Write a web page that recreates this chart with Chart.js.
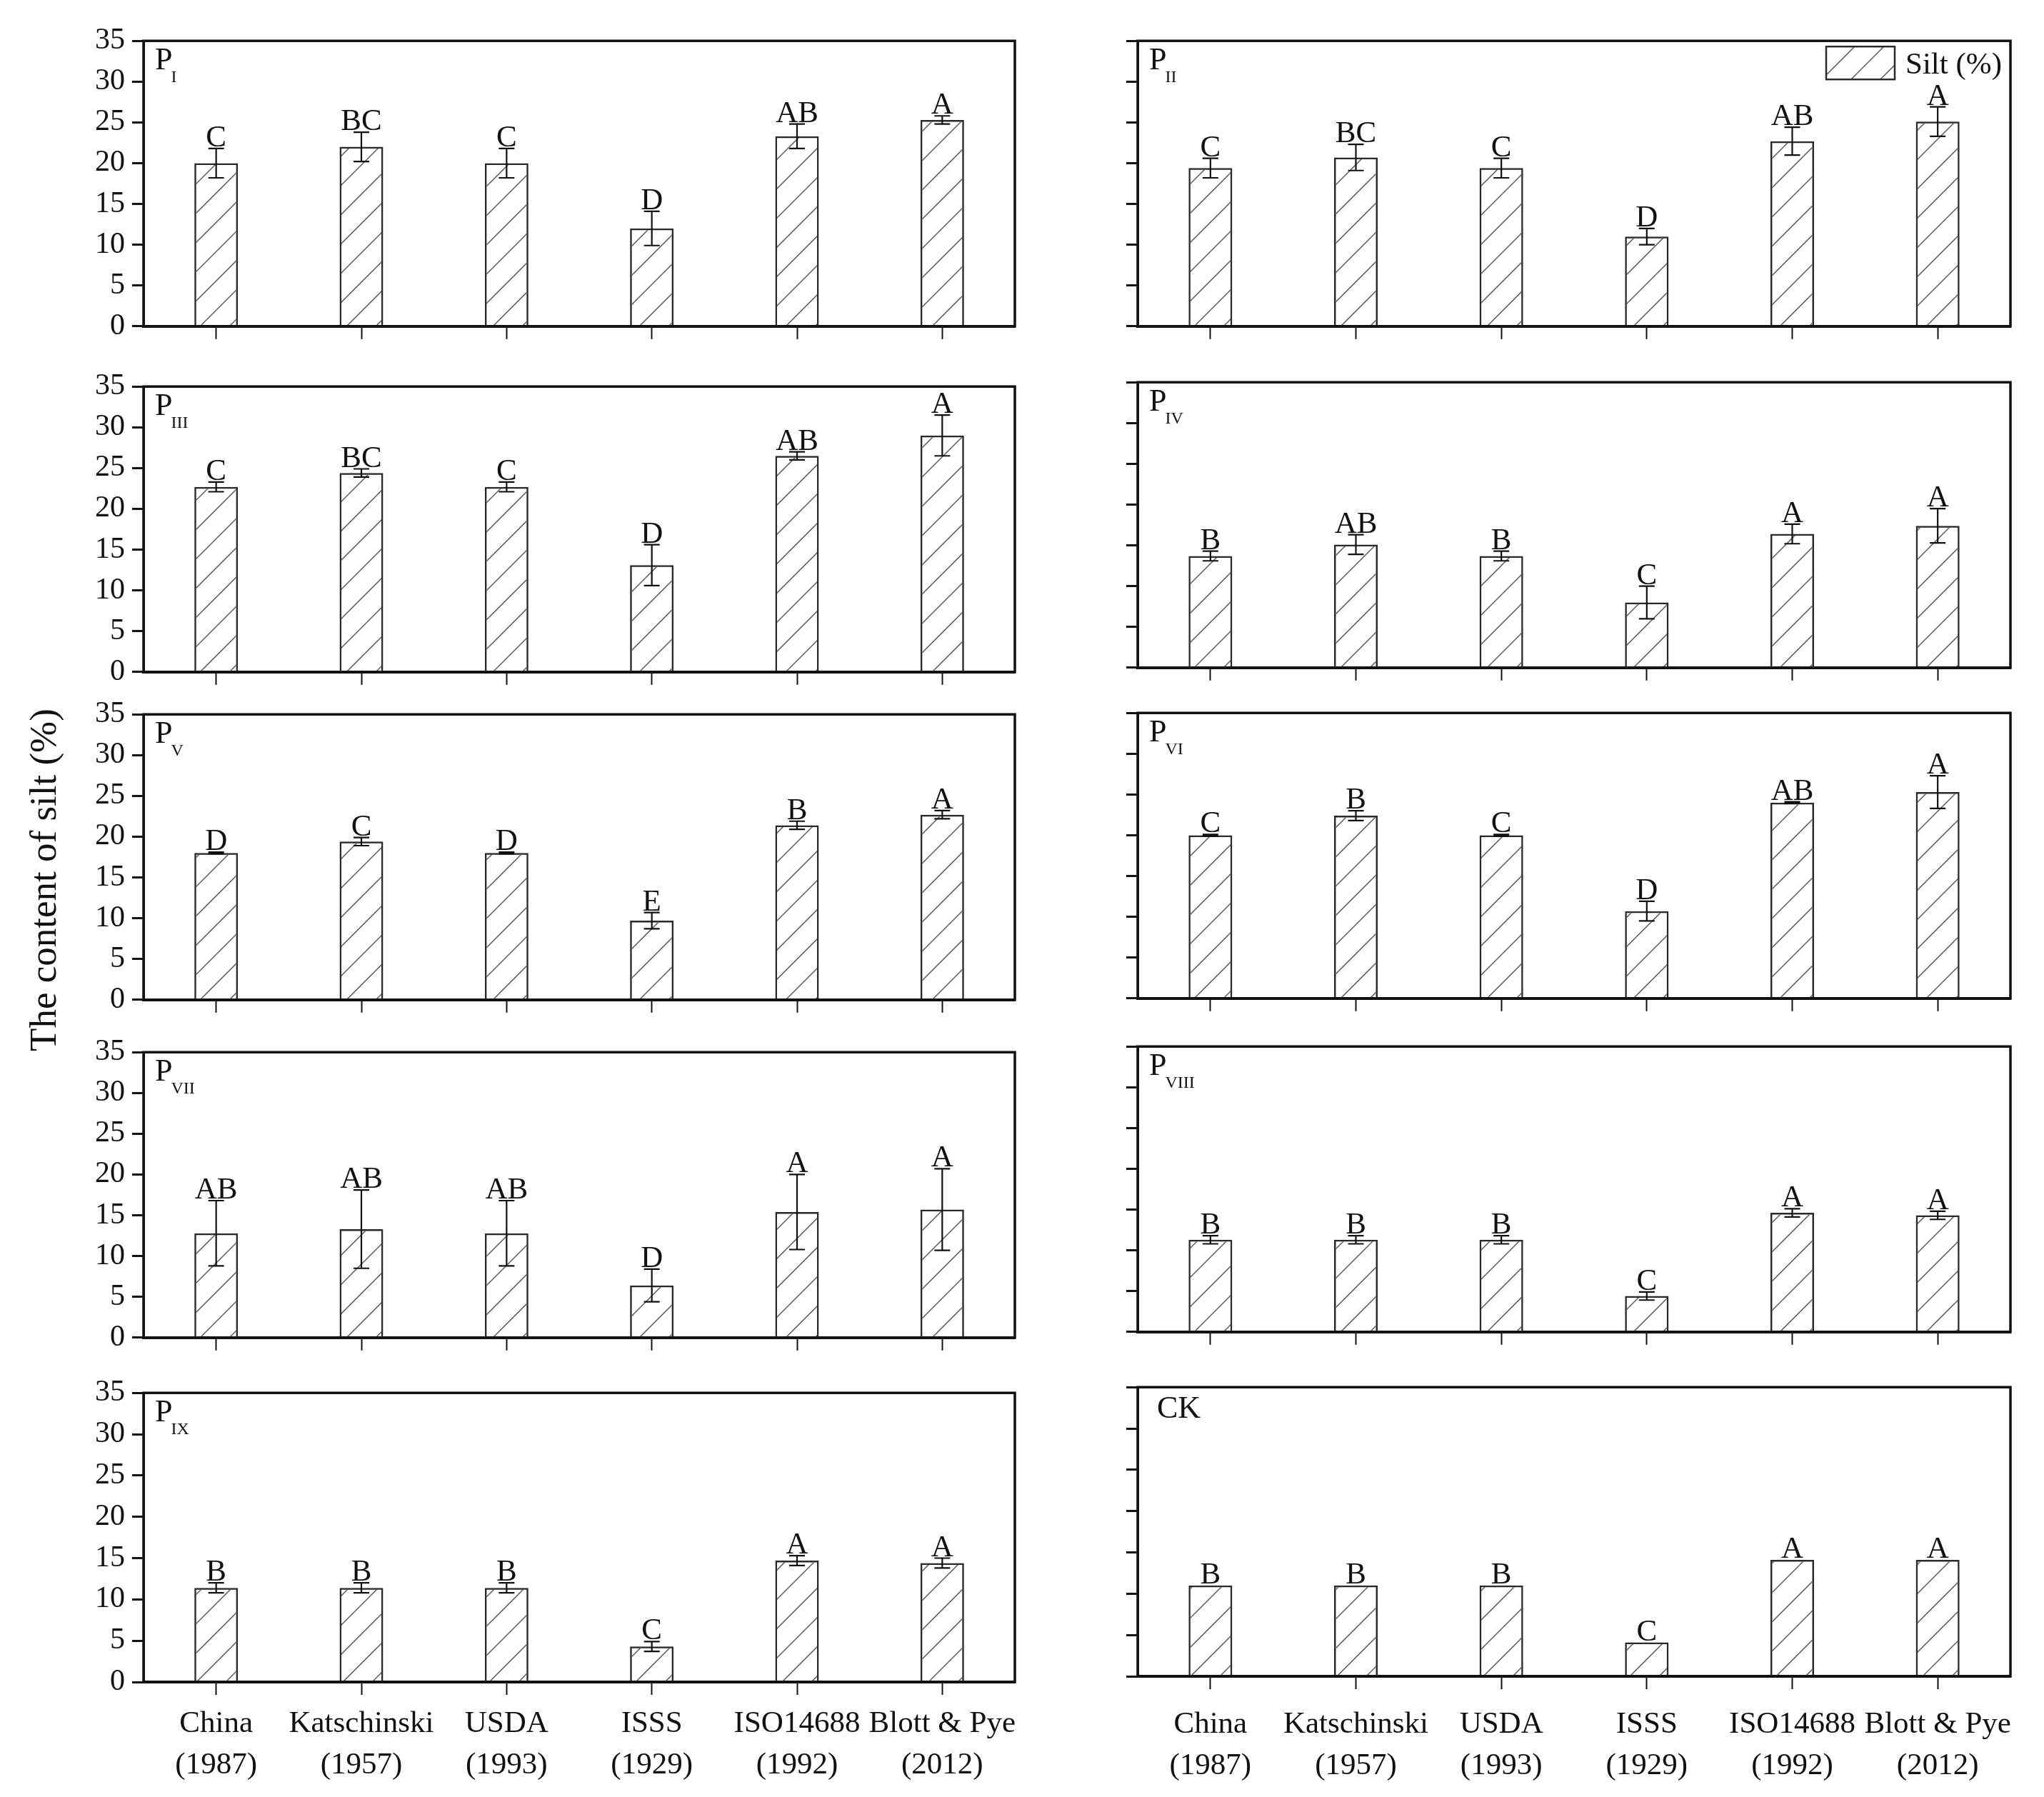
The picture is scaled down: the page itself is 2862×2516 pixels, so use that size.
<!DOCTYPE html>
<html>
<head>
<meta charset="utf-8">
<script src="https://cdn.jsdelivr.net/npm/chart.js@4.4.1/dist/chart.umd.min.js"></script>
<style>
  body{margin:0;background:#fff;width:2862px;height:2516px;position:relative;overflow:hidden;font-family:'Liberation Serif','Times New Roman',serif}
  canvas{position:absolute}
  #ytitle{position:absolute;left:60px;top:1232px;transform:translate(-50%,-50%) rotate(-90deg);font-size:53px;white-space:nowrap;color:#111}
</style>
</head>
<body>
<div id="ytitle">The content of silt (%)</div>
<script>
// ---------- data ----------
const categories = [['China','(1987)'],['Katschinski','(1957)'],['USDA','(1993)'],['ISSS','(1929)'],['ISO14688','(1992)'],['Blott & Pye','(2012)']];
const yTickValues = [0,5,10,15,20,25,30,35];
const panelMain = ['P','P','P','P','P','P','P','P','P','CK'];
const panelSub  = ['I','II','III','IV','V','VI','VII','VIII','IX',''];

const silt_PI    = [20.0, 22.0, 20.0, 12.0, 23.3, 25.3];
const err_PI     = [1.8, 1.8, 1.8, 2.1, 1.5, 0.5];
const let_PI     = ['C','BC','C','D','AB','A'];

const silt_PII   = [19.4, 20.7, 19.4, 11.0, 22.7, 25.1];
const err_PII    = [1.2, 1.6, 1.2, 1.0, 1.7, 1.8];
const let_PII    = ['C','BC','C','D','AB','A'];

const silt_PIII  = [22.7, 24.4, 22.7, 13.1, 26.5, 29.0];
const err_PIII   = [0.6, 0.5, 0.6, 2.5, 0.5, 2.5];
const let_PIII   = ['C','BC','C','D','AB','A'];

const silt_PIV   = [13.7, 15.1, 13.7, 8.0, 16.4, 17.4];
const err_PIV    = [0.6, 1.2, 0.6, 2.0, 1.2, 2.1];
const let_PIV    = ['B','AB','B','C','A','A'];

const silt_PV    = [18.0, 19.4, 18.0, 9.7, 21.4, 22.7];
const err_PV     = [0.1, 0.5, 0.1, 1.0, 0.5, 0.5];
const let_PV     = ['D','C','D','E','B','A'];

const silt_PVI   = [20.0, 22.4, 20.0, 10.7, 24.0, 25.3];
const err_PVI    = [0.1, 0.6, 0.1, 1.2, 0.1, 2.0];
const let_PVI    = ['C','B','C','D','AB','A'];

const silt_PVII  = [12.8, 13.3, 12.8, 6.4, 15.4, 15.7];
const err_PVII   = [4.0, 4.8, 4.0, 2.0, 4.6, 5.0];
const let_PVII   = ['AB','AB','AB','D','A','A'];

const silt_PVIII = [11.3, 11.3, 11.3, 4.4, 14.6, 14.3];
const err_PVIII  = [0.5, 0.5, 0.5, 0.5, 0.5, 0.5];
const let_PVIII  = ['B','B','B','C','A','A'];

const silt_PIX   = [11.4, 11.4, 11.4, 4.3, 14.7, 14.4];
const err_PIX    = [0.6, 0.6, 0.6, 0.6, 0.6, 0.6];
const let_PIX    = ['B','B','B','C','A','A'];

const silt_CK    = [11.0, 11.0, 11.0, 4.1, 14.1, 14.1];
const err_CK     = [0, 0, 0, 0, 0, 0];
const let_CK     = ['B','B','B','C','A','A'];

const allSilt    = [silt_PI, silt_PII, silt_PIII, silt_PIV, silt_PV, silt_PVI, silt_PVII, silt_PVIII, silt_PIX, silt_CK];
const allErr     = [err_PI, err_PII, err_PIII, err_PIV, err_PV, err_PVI, err_PVII, err_PVIII, err_PIX, err_CK];
const allLetters = [let_PI, let_PII, let_PIII, let_PIV, let_PV, let_PVI, let_PVII, let_PVIII, let_PIX, let_CK];

// ---------- layout ----------
const FONT = "'Liberation Serif', 'Times New Roman', serif";
const INK = '#111';
const PAD_TOP = 30, PAD_R = 44, Y_W = 101, PLOT_H = 410;
const colLeft = [201, 1593];            // plot area left edge
const colWidth = [1220, 1222];          // plot area width
const rowTop = [[52,536,995,1468,1945],[52,530,993,1460,1937]];

// hatch tile "/" at 45 deg
function hatchTile(){
  const s = 41, c = document.createElement('canvas');
  c.width = s; c.height = s;
  const g = c.getContext('2d');
  g.strokeStyle = '#5a5a5a'; g.lineWidth = 1.5;
  g.beginPath();
  g.moveTo(-2, s+2); g.lineTo(s+2, -2);
  g.moveTo(-2, 2); g.lineTo(2, -2);
  g.moveTo(s-2, s+2); g.lineTo(s+2, s-2);
  g.stroke();
  return c;
}
const tile = hatchTile();

// ---------- error bars, letters, frame, labels ----------
const decor = {
  id: 'decor',
  afterDatasetsDraw(chart, args, o){
    const ctx = chart.ctx, a = chart.chartArea, y = chart.scales.y;
    const meta = chart.getDatasetMeta(0);
    ctx.save();
    ctx.strokeStyle = INK; ctx.fillStyle = INK; ctx.lineWidth = 2.2;
    ctx.font = '43px ' + FONT; ctx.textAlign = 'center'; ctx.textBaseline = 'alphabetic';
    meta.data.forEach((bar, i) => {
      const v = o.values[i], e = o.errors[i];
      const yt = y.getPixelForValue(v + e), yb = y.getPixelForValue(v - e);
      if(e > 0){
        ctx.beginPath();
        ctx.moveTo(bar.x, yt); ctx.lineTo(bar.x, yb);
        ctx.moveTo(bar.x-11, yt); ctx.lineTo(bar.x+11, yt);
        ctx.moveTo(bar.x-11, yb); ctx.lineTo(bar.x+11, yb);
        ctx.stroke();
      }
      ctx.fillText(o.letters[i], bar.x, yt - 3);
    });
    // frame
    ctx.lineWidth = 3.5;
    ctx.strokeRect(a.left, a.top, a.right - a.left, a.bottom - a.top);
    // panel label
    ctx.textAlign = 'left';
    if(o.sub){
      ctx.font = '44px ' + FONT;
      ctx.fillText(o.main, a.left + 16, a.top + 40);
      const w = ctx.measureText(o.main).width;
      ctx.font = '24px ' + FONT;
      ctx.fillText(o.sub, a.left + 16 + w - 2, a.top + 58);
    } else {
      ctx.font = '44px ' + FONT;
      ctx.fillText(o.main, a.left + 27, a.top + 43);
    }
    // legend
    if(o.legend){
      const lx = a.right - 258, ly = a.top + 8;
      ctx.fillStyle = ctx.createPattern(tile, 'repeat');
      ctx.fillRect(lx, ly, 96, 46);
      ctx.lineWidth = 2.5; ctx.strokeStyle = '#2a2a2a';
      ctx.strokeRect(lx, ly, 96, 46);
      ctx.fillStyle = INK; ctx.font = '43px ' + FONT;
      ctx.fillText('Silt (%)', lx + 111, ly + 38);
    }
    ctx.restore();
  }
};

function makePanel(idx){
  const col = idx % 2, row = Math.floor(idx / 2);
  const bottom = row === 4;
  const xH = bottom ? 180 : 30;
  const cv = document.createElement('canvas');
  const W = Y_W + colWidth[col] + PAD_R, H = PAD_TOP + PLOT_H + xH;
  cv.width = W; cv.height = H;
  cv.style.width = W + 'px'; cv.style.height = H + 'px';
  cv.style.left = (colLeft[col] - Y_W) + 'px';
  cv.style.top = (rowTop[col][row] - PAD_TOP) + 'px';
  document.body.appendChild(cv);
  const ctx = cv.getContext('2d');
  new Chart(ctx, {
    type: 'bar',
    data: {
      labels: categories,
      datasets: [{
        data: allSilt[idx],
        backgroundColor: ctx.createPattern(tile, 'repeat'),
        borderColor: '#2a2a2a', borderWidth: 2.5,
        barPercentage: 0.3, categoryPercentage: 1
      }]
    },
    options: {
      responsive: false, animation: false, devicePixelRatio: 1,
      layout: {padding: {top: PAD_TOP, right: PAD_R, left: 0, bottom: 0}},
      plugins: {
        legend: {display: false}, tooltip: {enabled: false},
        decor: {values: allSilt[idx], errors: allErr[idx], letters: allLetters[idx],
                main: panelMain[idx], sub: panelSub[idx], legend: idx === 1}
      },
      scales: {
        x: {
          grid: {offset: false, drawOnChartArea: false, tickLength: 18, tickWidth: 2, tickColor: INK},
          border: {color: INK, width: 4},
          ticks: {display: bottom, color: INK, font: {family: FONT, size: 43, lineHeight: 1.35},
                  padding: col === 0 ? 12 : 21, maxRotation: 0, autoSkip: false},
          afterFit(s){ s.height = xH; }
        },
        y: {
          min: 0, max: 35,
          afterBuildTicks(s){ s.ticks = yTickValues.map(v => ({value: v})); },
          grid: {drawOnChartArea: false, tickLength: 16, tickWidth: 3, tickColor: INK},
          border: {color: INK, width: 3},
          ticks: {color: INK, font: {family: FONT, size: 42}, padding: 10,
                  callback: v => col === 0 ? String(v) : ''},
          afterFit(s){ s.width = Y_W; }
        }
      }
    },
    plugins: [decor]
  });
}

for(let i = 0; i < 10; i++) makePanel(i);
</script>
</body>
</html>
